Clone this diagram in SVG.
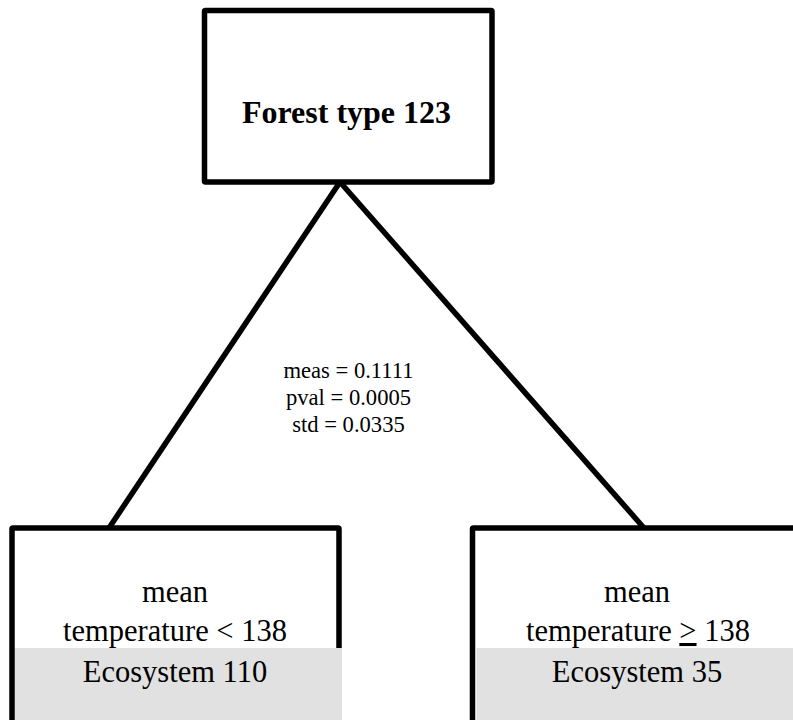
<svg xmlns="http://www.w3.org/2000/svg" width="793" height="720" viewBox="0 0 793 720">
<style>
.box{fill:#ffffff;stroke:#000000;stroke-width:5.5;stroke-linejoin:round}
.band{fill:#e1e1e1}
.edge{stroke:#000000;stroke-width:5.5;fill:none}
.t{font-family:"Liberation Serif","Times New Roman",serif;fill:#000000;text-anchor:middle}
.title{font-size:32px;font-weight:bold}
.node{font-size:30.5px}
.lbl{font-size:22.6px}
</style>
<rect width="793" height="720" fill="#ffffff"/>
<g id="connectors">
<line class="edge" x1="340" y1="182" x2="109" y2="528"/>
<line class="edge" x1="340" y1="182" x2="644" y2="528"/>
<g id="edge-label">
<text class="t lbl" x="348.5" y="378">meas = 0.1111</text>
<text class="t lbl" x="348.5" y="405">pval = 0.0005</text>
<text class="t lbl" x="348.5" y="432">std = 0.0335</text>
</g>
</g>
<g id="node-root">
<rect class="box" x="204.5" y="10.5" width="287.5" height="171.5" rx="1"/>
<text class="t title" x="346.5" y="123">Forest type 123</text>
</g>
<g id="node-left">
<rect class="box" x="12" y="528" width="327" height="220" rx="1"/>
<rect class="band" x="15" y="648" width="327" height="80"/>
<text class="t node" x="175" y="602">mean</text>
<text class="t node" x="175" y="641">temperature &lt; 138</text>
<text class="t node" x="175" y="682">Ecosystem 110</text>
</g>
<g id="node-right">
<rect class="box" x="472.5" y="528" width="327" height="220" rx="1"/>
<rect class="band" x="476.5" y="648" width="330" height="80"/>
<text class="t node" x="637" y="602">mean</text>
<text class="t node" x="638" y="641">temperature <tspan text-decoration="underline">&gt;</tspan> 138</text>
<text class="t node" x="637" y="682">Ecosystem 35</text>
</g>
</svg>
